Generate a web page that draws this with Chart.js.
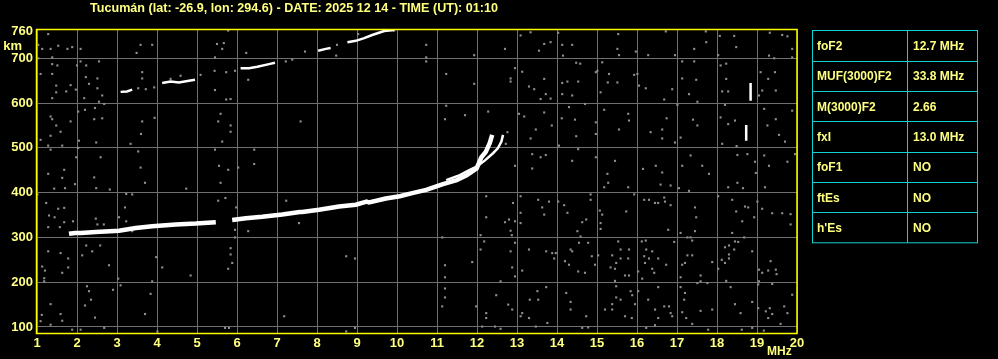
<!DOCTYPE html>
<html>
<head>
<meta charset="utf-8">
<script src="https://cdn.jsdelivr.net/npm/chart.js@4/dist/chart.umd.min.js"></script>
<style>
html,body{margin:0;padding:0;background:#000;}
canvas{display:block;}
</style>
</head>
<body>
<canvas id="c" width="998" height="359"></canvas>
<script>
// ---------- DATA ----------
const titleText = "Tucumán (lat: -26.9, lon: 294.6) - DATE: 2025 12 14 - TIME (UT): 01:10";
const freqTicks = [1,2,3,4,5,6,7,8,9,10,11,12,13,14,15,16,17,18,19,20];
const heightTicks = [100,200,300,400,500,600,700,760];
const xUnit = "MHz";
const yUnit = "km";

// F2 ordinary trace (MHz, km)
const oTraceF = [1.8,1.95,2.09,2.47,3.05,3.47,3.88,4.47,4.97,5.47,5.6,5.75,5.88,6.22,6.63,7.13,7.57,7.63,8.05,8.4,8.55,8.97,9.24,9.3,9.72,10.07,10.38,10.73,11.15,11.49,11.74,11.99,12.11,12.22,12.32,12.38];
const oTraceH = [308,310,310,312,315,321,325,329,331,334,null,null,339,343,346,351,357,357,362,367,369,373,380,378,387,392,399,406,419,428,439,454,479,491,511,529];
// F2 extraordinary trace
const xTraceF = [11.23,11.57,11.82,11.99,12.2,12.4,12.52,12.61,12.65];
const xTraceH = [428,439,451,458,472,488,499,514,529];
// second-hop trace (gaps as null)
const hop2F = [3.09,3.25,3.38,3.5,4.13,4.34,4.55,4.8,4.95,5.2,6.09,6.3,6.51,6.8,6.95,7.5,8.03,8.22,8.34,8.5,8.76,8.97,9.18,9.38,9.55,9.68,9.93];
const hop2H = [625,626,630,null,645,648,646,650,652,null,678,678,681,687,690,null,717,721,723,null,736,739,745,752,757,761,763];
// vertical spikes near 18.8 MHz
const spikeF = [18.84,18.84,18.8,18.73,18.73];
const spikeH = [645,605,null,551,516];

// background noise points [MHz, km]
const noisePoints = [
[1.28,754],[1.03,730],[1.13,721],[1.34,721],[1.53,728],[1.76,721],[1.88,725],[2.09,721],[1.38,702],[1.03,700],[2.09,693],[2.55,693],
[1.38,687],[1.51,684],[1.09,665],[1.38,665],[2.22,658],[2.3,643],[1.84,640],[1.48,639],[2.51,655],[2.0,684],[2.23,684],[2.51,633],
[1.48,624],[1.73,626],[1.97,630],[2.63,617],[1.38,611],[2.18,611],[2.55,603],[2.68,598],[2.03,581],[2.2,585],[2.45,589],[1.34,570],
[1.38,564],[1.84,559],[2.63,566],[2.43,564],[1.48,550],[1.59,536],[3.63,559],[3.94,567],[3.6,531],[3.34,509],[2.05,516],[2.48,512],
[1.34,527],[1.09,518],[1.28,505],[1.63,505],[2.03,500],[1.34,496],[1.98,479],[2.59,479],[3.53,492],[3.59,456],[1.68,451],[1.28,442],
[2.43,434],[1.63,433],[3.59,730],[3.88,730],[3.49,712],[3.63,669],[3.63,655],[3.72,631],[3.93,635],[3.53,633],[4.34,654],[4.59,661],
[5.09,663],[5.44,672],[5.5,732],[5.67,734],[5.63,721],[5.78,762],[5.45,702],[6.23,712],[5.95,672],[5.73,669],[5.84,609],[5.73,608],
[5.45,629],[6.28,652],[5.59,576],[5.53,559],[5.84,550],[5.84,536],[5.63,514],[5.45,496],[5.55,460],[5.78,451],[6.03,456],[6.43,496],
[6.43,464],[7.59,559],[7.7,715],[7.22,693],[7.38,697],[8.48,706],[8.5,730],[9.03,754],[9.93,762],
[10.73,730],[10.73,702],[10.73,693],[11.23,665],[11.93,707],[11.93,643],[11.23,594],[11.2,564],[11.7,573],[12.28,581],[12.7,721],
[12.84,655],[12.84,648],[12.95,678],[13.09,751],[13.34,758],[13.13,670],[13.3,637],[13.43,631],[13.68,732],[13.84,736],[13.55,717],
[13.68,654],[13.72,620],[13.59,609],[13.84,610],[13.05,576],[13.18,570],[13.68,579],[13.47,541],[13.87,550],[13.34,521],[12.76,535],
[12.72,509],[13.38,486],[13.59,479],[13.72,484],[12.95,460],[13.38,454],[14.13,730],[14.38,730],[14.15,706],[14.03,757],[14.13,645],
[14.26,648],[14.53,648],[14.38,617],[14.13,620],[14.48,690],[14.58,688],[14.97,669],[15.01,672],[15.13,691],[15.3,665],[15.09,624],
[15.27,646],[14.12,566],[14.3,591],[14.45,563],[14.48,526],[14.7,598],[14.97,557],[14.97,531],[14.53,497],[14.38,471],[14.05,505],
[14.97,479],[15.18,585],[15.45,471],[15.26,442],[15.53,754],[15.51,721],[15.55,707],[15.97,715],[16.28,707],[16.01,665],[16.22,633],
[16.05,639],[15.93,663],[15.51,646],[16.88,631],[16.68,608],[17.01,596],[15.78,576],[15.8,561],[15.55,541],[16.34,535],[16.63,541],
[16.74,566],[16.63,521],[16.95,512],[16.15,453],[16.47,460],[16.63,445],[16.72,760],[16.95,707],[17.13,693],[17.43,693],[17.13,655],
[17.3,620],[17.51,603],[17.72,760],[17.73,736],[17.43,721],[17.48,652],[17.4,563],[17.51,550],[17.09,523],[17.34,483],[17.63,460],
[17.13,460],[17.8,442],[18.07,750],[18.43,750],[18.48,725],[18.03,707],[18.09,684],[18.23,688],[18.23,654],[18.13,626],[18.28,626],
[18.2,596],[18.09,568],[18.28,553],[18.45,561],[18.13,509],[18.49,504],[18.51,484],[18.76,486],[18.95,469],[18.97,444],[19.13,628],
[19.05,617],[19.09,669],[19.28,654],[19.45,669],[19.47,628],[19.32,757],[19.63,752],[19.76,749],[19.3,706],[19.43,700],[19.88,702],
[19.88,721],[19.18,587],[19.26,550],[19.47,564],[19.55,529],[19.7,514],[19.18,483],[19.3,460],[19.76,469],[19.95,486],[19.88,583],
[1.95,419],[2.48,410],[2.82,407],[1.01,396],[1.7,410],[1.43,409],[3.38,396],[3.23,397],[3.7,422],[4.73,409],[5.59,422],[5.71,388],
[5.53,382],[5.98,367],[5.95,317],[5.95,300],[6.28,314],[7.23,382],[7.55,332],[1.23,377],[1.53,364],[1.68,366],[1.3,349],[1.44,345],
[1.9,336],[1.68,334],[1.28,323],[1.57,323],[2.47,342],[2.51,329],[2.67,329],[3.2,367],[3.05,345],[3.23,336],[3.38,314],[1.28,269],
[1.59,265],[1.78,253],[1.13,235],[1.2,226],[1.18,209],[1.18,202],[1.63,221],[1.78,233],[2.23,282],[2.38,269],[2.58,282],[2.13,260],
[2.8,238],[3.98,256],[4.13,233],[4.84,215],[3.03,208],[3.09,193],[2.9,183],[2.25,191],[2.3,180],[2.35,161],[3.88,202],[3.84,174],
[2.2,148],[2.45,121],[1.34,151],[1.12,127],[1.09,113],[1.63,114],[1.59,129],[1.34,105],[1.88,94],[2.09,94],[2.68,98],[3.7,129],
[4.01,90],[5.7,98],[5.8,98],[5.84,276],[5.84,262],[5.88,243],[5.78,230],[7.18,124],[8.73,258],[8.95,253],[8.73,90],[8.95,98],
[11.13,300],[11.2,238],[11.2,211],[11.2,186],[11.2,166],[11.13,146],[11.88,245],[11.98,146],[12.23,392],[12.23,345],[12.09,305],
[12.18,291],[12.09,273],[12.59,202],[12.48,171],[12.23,131],[12.23,120],[12.13,101],[12.45,101],[12.59,96],[12.7,334],[12.8,340],
[12.95,336],[12.84,315],[12.87,305],[12.95,288],[12.84,269],[12.88,233],[12.95,213],[13.13,226],[13.09,392],[13.09,355],[13.09,332],
[12.9,377],[13.63,367],[13.68,351],[13.53,384],[13.8,380],[13.3,273],[13.73,269],[13.88,265],[13.93,253],[13.51,180],[13.53,161],
[13.73,189],[13.32,161],[13.13,131],[13.3,120],[13.47,101],[13.76,109],[12.78,150],[12.88,139],[13.09,124],[14.03,380],[14.18,372],
[14.26,355],[14.63,334],[14.73,340],[14.51,314],[14.59,302],[14.55,288],[14.78,288],[14.38,269],[14.34,273],[14.2,247],[14.3,239],
[14.53,224],[14.7,221],[13.97,265],[14.23,176],[14.34,156],[14.34,139],[14.73,124],[14.63,98],[14.78,99],[14.84,384],[14.84,396],
[15.07,360],[15.13,351],[15.09,332],[15.09,319],[15.28,422],[15.18,412],[15.78,412],[15.93,396],[15.73,358],[14.87,258],[14.95,239],
[15.03,260],[15.38,260],[15.34,233],[15.45,230],[15.48,243],[15.59,253],[15.78,253],[15.59,273],[15.53,291],[15.8,273],[15.7,215],
[15.8,215],[15.45,203],[15.48,191],[15.48,166],[15.59,161],[15.38,151],[15.84,180],[15.88,171],[15.95,151],[15.2,139],[15.38,139],
[15.7,124],[15.87,120],[16.03,180],[16.03,224],[16.22,293],[16.12,291],[16.23,273],[16.38,269],[16.18,258],[16.2,243],[16.3,253],
[16.38,230],[16.43,221],[16.53,253],[16.13,208],[16.18,384],[16.3,384],[16.45,377],[16.53,377],[16.68,389],[16.7,380],[16.84,372],
[16.59,418],[16.84,416],[16.78,317],[16.73,239],[16.28,161],[16.53,189],[16.68,146],[16.8,146],[16.45,139],[16.84,131],[16.88,124],
[16.53,120],[16.45,104],[16.23,98],[16.93,290],[17.05,410],[17.3,404],[17.09,310],[17.26,300],[17.34,300],[17.38,293],[17.45,367],
[17.48,345],[17.45,314],[17.26,260],[17.38,260],[17.2,243],[17.13,239],[17.09,211],[17.59,215],[17.59,202],[17.51,198],[17.76,198],
[17.09,189],[17.2,176],[17.18,161],[17.13,133],[17.23,120],[17.38,107],[17.59,136],[17.88,139],[17.78,94],[17.88,245],[18.03,392],
[18.28,412],[18.51,422],[18.65,410],[18.38,384],[18.48,358],[18.7,369],[18.78,367],[18.63,336],[18.93,345],[18.38,310],[18.45,291],
[18.53,290],[18.68,300],[18.2,278],[18.3,282],[18.43,273],[18.88,269],[18.3,262],[18.3,253],[18.12,250],[18.2,243],[18.03,230],
[18.23,203],[18.34,189],[18.45,151],[18.59,131],[18.88,156],[19.03,142],[19.22,135],[19.32,142],[19.38,129],[19.28,120],[19.59,107],
[19.76,131],[19.68,146],[19.88,172],[19.84,329],[19.84,352],[19.63,354],[19.38,354],[19.2,412],[19.01,380],[19.13,364],[19.28,226],
[19.34,247],[19.47,228],[19.49,218],[19.05,228],[19.13,221],[19.05,202],[19.38,196],[19.03,195],[18.88,98],[19.17,92],[18.62,94]
];

// parameter table
const tableLabels = ["foF2","MUF(3000)F2","M(3000)F2","fxI","foF1","ftEs","h'Es"];
const tableValues = ["12.7 MHz","33.8 MHz","2.66","13.0 MHz","NO","NO","NO"];

// ---------- CHART ----------
const FONT = "'Liberation Sans', Arial, sans-serif";
const TXT = '#ffff80';
const GRID = '#707070';

function toXY(fs, hs){ return fs.map((f,i)=>({x:f, y:hs[i]})); }

const panelPlugin = {
  id:'panel',
  beforeDraw(chart){
    const c = chart.ctx;
    c.save(); c.fillStyle = '#000'; c.fillRect(0,0,chart.width,chart.height); c.restore();
  },
  afterDraw(chart){
    const c = chart.ctx, a = chart.chartArea;
    c.save();
    // yellow frame
    c.strokeStyle = '#ffff00'; c.lineWidth = 1.5;
    c.strokeRect(a.left-0.5, a.top+0.5, a.right-a.left+0.5, a.bottom-a.top);
    // title
    c.fillStyle = TXT;
    c.font = "bold 13px " + FONT;
    c.textBaseline = 'alphabetic';
    const w = c.measureText(titleText).width;
    const target = 408;
    c.save(); c.translate(90, 11.5); c.scale(target/w, 1); c.fillText(titleText, 0, 0); c.restore();
    // axis units
    c.font = "bold 13px " + FONT;
    c.textAlign = 'right'; c.textBaseline = 'middle';
    c.fillText(yUnit, 22, 46);
    c.font = "bold 12px " + FONT;
    c.textAlign = 'left';
    c.fillText(xUnit, 767, 352);
    // table
    const tx0 = 812.5, tx1 = 907.5, tx2 = 977.5, ty0 = 30.5, rh = 30.33;
    const n = tableLabels.length;
    c.strokeStyle = '#12d2d2'; c.lineWidth = 1;
    c.strokeRect(tx0, ty0, tx2-tx0, rh*n);
    c.beginPath();
    c.moveTo(tx1, ty0); c.lineTo(tx1, ty0 + rh*n);
    for (let i=1;i<n;i++){ const y = Math.round(ty0 + rh*i) + 0.5; c.moveTo(tx0, y); c.lineTo(tx2, y); }
    c.stroke();
    c.fillStyle = TXT; c.font = "bold 12px " + FONT; c.textAlign = 'left'; c.textBaseline = 'middle';
    for (let i=0;i<n;i++){
      const yc = ty0 + rh*i + rh/2 + 1;
      c.fillText(tableLabels[i], 817, yc);
      c.fillText(tableValues[i], 913, yc);
    }
    c.restore();
  }
};

new Chart(document.getElementById('c'), {
  type: 'line',
  data: {
    datasets: [
      { label:'noise', data: noisePoints.map(p=>({x:p[0], y:p[1]})), showLine:false,
        pointStyle:'rect', pointRadius:1.5, pointBorderWidth:0, pointBackgroundColor:'#8e8e8e', order:5 },
      { label:'O', data: toXY(oTraceF, oTraceH), borderColor:'#ffffff', borderWidth:4.5, pointRadius:0,
        spanGaps:false, tension:0, borderCapStyle:'butt', order:1 },
      { label:'X', data: toXY(xTraceF, xTraceH), borderColor:'#ffffff', borderWidth:2.5, pointRadius:0, tension:0, order:1 },
      { label:'2F', data: toXY(hop2F, hop2H), borderColor:'#ffffff', borderWidth:2.5, pointRadius:0, spanGaps:false, tension:0, order:1 },
      { label:'spike', data: toXY(spikeF, spikeH), borderColor:'#ffffff', borderWidth:2.5, pointRadius:0, spanGaps:false, order:1 }
    ]
  },
  options: {
    responsive:false, animation:false, devicePixelRatio:1,
    layout:{ padding:{ top:29, right:201, left:0, bottom:0 } },
    plugins:{ legend:{display:false}, tooltip:{enabled:false}, title:{display:false} },
    scales:{
      x:{ type:'linear', min:1, max:20,
        afterBuildTicks: s => { s.ticks = freqTicks.map(v=>({value:v})); },
        afterFit: s => { s.height = 26; },
        grid:{ color:GRID, drawTicks:false, lineWidth:1 },
        border:{ display:false },
        ticks:{ color:TXT, font:{family:FONT, size:13, weight:'bold'}, padding:3, autoSkip:false, maxRotation:0,
          callback: v => String(v) }
      },
      y:{ type:'linear', min:86.6, max:765.4,
        afterBuildTicks: s => { s.ticks = heightTicks.map(v=>({value:v})); },
        afterFit: s => { s.width = 37; },
        grid:{ color: ctx => (ctx.tick && ctx.tick.value === 760) ? 'rgba(0,0,0,0)' : GRID, drawTicks:false, lineWidth:1 },
        border:{ display:false },
        ticks:{ color:TXT, font:{family:FONT, size:13, weight:'bold'}, padding:4, autoSkip:false,
          callback: v => String(v) }
      }
    }
  },
  plugins:[panelPlugin]
});
</script>
</body>
</html>
